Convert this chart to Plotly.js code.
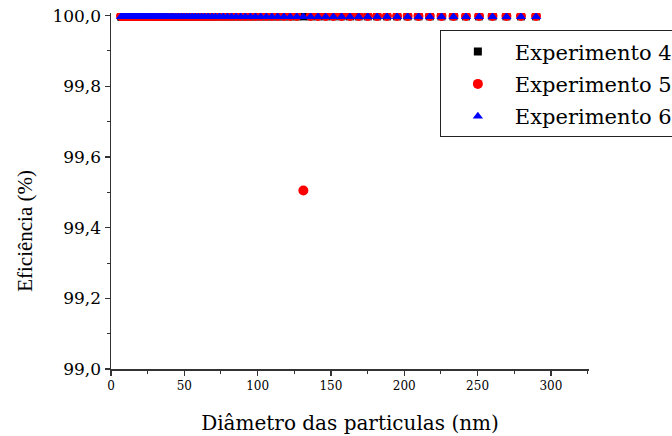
<!DOCTYPE html>
<html>
<head>
<meta charset="utf-8">
<script src="https://cdn.plot.ly/plotly-3.0.1.min.js"></script>
<style>html,body{margin:0;padding:0;background:#fff;}#chart{width:672px;height:436px;}</style>
</head>
<body>
<div id="chart"></div>
<script>
// Diâmetro das partículas (nm)
const diametro = [
  6.88, 7.12, 7.39, 7.65, 7.94, 8.22, 8.53, 8.85, 9.17, 9.51,
  9.85, 10.2, 10.6, 10.9, 11.3, 11.8, 12.2, 12.7, 13.1, 13.6,
  14.1, 14.6, 15.2, 15.7, 16.3, 16.9, 17.5, 18.2, 18.8, 19.5,
  20.2, 21.0, 21.7, 22.5, 23.4, 24.2, 25.1, 26.0, 27.0, 28.0,
  29.0, 30.0, 31.1, 32.3, 33.5, 34.7, 36.0, 37.3, 38.6, 40.1,
  41.5, 43.0, 44.6, 46.3, 48.0, 49.7, 51.5, 53.4, 55.4, 57.4,
  59.5, 61.7, 63.9, 66.3, 68.8, 71.2, 73.9, 76.5, 79.4, 82.2,
  85.3, 88.5, 91.7, 95.1, 98.5, 102.1, 105.9, 109.7, 113.7, 117.9,
  122.2, 126.7, 131.2, 136.1, 141.2, 146.4, 151.7, 157.2, 163.0, 168.9,
  175.1, 181.5, 188.2, 195.1, 202.3, 209.7, 217.4, 225.4, 233.6, 242.1,
  251.0, 260.2, 269.7, 279.6, 289.9
];

// Eficiência (%)
const experimento4 = [
  99.998, 99.998, 99.998, 99.998, 99.998, 99.998, 99.998, 99.998, 99.998, 99.998, 99.998, 99.998, 99.998, 99.998, 99.998,
  99.998, 99.998, 99.998, 99.998, 99.998, 99.998, 99.998, 99.998, 99.998, 99.998, 99.998, 99.998, 99.998, 99.998, 99.998,
  99.998, 99.998, 99.998, 99.998, 99.998, 99.998, 99.998, 99.998, 99.998, 99.998, 99.998, 99.998, 99.998, 99.998, 99.998,
  99.998, 99.998, 99.998, 99.998, 99.998, 99.998, 99.998, 99.998, 99.998, 99.998, 99.998, 99.998, 99.998, 99.998, 99.998,
  99.998, 99.998, 99.998, 99.998, 99.998, 99.998, 99.998, 99.998, 99.998, 99.998, 99.998, 99.998, 99.998, 99.998, 99.998,
  99.998, 99.998, 99.998, 99.998, 99.998, 99.998, 99.998, 99.998, 99.998, 99.998, 99.998, 99.998, 99.998, 99.998, 99.998,
  99.998, 99.998, 99.998, 99.998, 99.998, 99.998, 99.998, 99.998, 99.998, 99.998, 99.998, 99.998, 99.998, 99.998, 99.998
];
const experimento5 = [
  99.999, 99.999, 99.999, 99.999, 99.999, 99.999, 99.999, 99.999, 99.999, 99.999, 99.999, 99.999, 99.999, 99.999, 99.999,
  99.999, 99.999, 99.999, 99.999, 99.999, 99.999, 99.999, 99.999, 99.999, 99.999, 99.999, 99.999, 99.999, 99.999, 99.999,
  99.999, 99.999, 99.999, 99.999, 99.999, 99.999, 99.999, 99.999, 99.999, 99.999, 99.999, 99.999, 99.999, 99.999, 99.999,
  99.999, 99.999, 99.999, 99.999, 99.999, 99.999, 99.999, 99.999, 99.999, 99.999, 99.999, 99.999, 99.999, 99.999, 99.999,
  99.999, 99.999, 99.999, 99.999, 99.999, 99.999, 99.999, 99.999, 99.999, 99.999, 99.999, 99.999, 99.999, 99.999, 99.999,
  99.999, 99.999, 99.999, 99.999, 99.999, 99.999, 99.999, 99.505, 99.999, 99.999, 99.999, 99.999, 99.999, 99.999, 99.999,
  99.999, 99.999, 99.999, 99.999, 99.999, 99.999, 99.999, 99.999, 99.999, 99.999, 99.999, 99.999, 99.999, 99.999, 99.999
];
const experimento6 = [
  99.997, 99.997, 99.997, 99.997, 99.997, 99.997, 99.997, 99.997, 99.997, 99.997, 99.997, 99.997, 99.997, 99.997, 99.997,
  99.997, 99.997, 99.997, 99.997, 99.997, 99.997, 99.997, 99.997, 99.997, 99.997, 99.997, 99.997, 99.997, 99.997, 99.997,
  99.997, 99.997, 99.997, 99.997, 99.997, 99.997, 99.997, 99.997, 99.997, 99.997, 99.997, 99.997, 99.997, 99.997, 99.997,
  99.997, 99.997, 99.997, 99.997, 99.997, 99.997, 99.997, 99.997, 99.997, 99.997, 99.997, 99.997, 99.997, 99.997, 99.997,
  99.997, 99.997, 99.997, 99.997, 99.997, 99.997, 99.997, 99.997, 99.997, 99.997, 99.997, 99.997, 99.997, 99.997, 99.997,
  99.997, 99.997, 99.997, 99.997, 99.997, 99.997, 99.997, 99.997, 99.997, 99.997, 99.997, 99.997, 99.997, 99.997, 99.997,
  99.997, 99.997, 99.997, 99.997, 99.997, 99.997, 99.997, 99.997, 99.997, 99.997, 99.997, 99.997, 99.997, 99.997, 99.997
];

const seriesNames = ['Experimento 4', 'Experimento 5', 'Experimento 6'];
const xTicks = [0, 50, 100, 150, 200, 250, 300];
const yTicks = [99.0, 99.2, 99.4, 99.6, 99.8, 100.0];

const serif = 'DejaVu Serif, serif';

const traces = [
  {x: diametro, y: experimento4, name: seriesNames[0], legendgroup: 'a', type: 'scatter', mode: 'markers',
   marker: {symbol: 'square', size: 8, color: '#000000'}},
  {x: diametro, y: experimento5, name: seriesNames[1], legendgroup: 'b', type: 'scatter', mode: 'markers',
   marker: {symbol: 'circle', size: 10, color: '#ff0000'}},
  {x: diametro, y: experimento6, name: seriesNames[2], legendgroup: 'c', type: 'scatter', mode: 'markers',
   marker: {symbol: 'triangle-up', size: 9, color: '#0000ff'}}
];

const layout = {
  width: 672, height: 436,
  margin: {l: 111, r: 83, t: 13, b: 67, autoexpand: false},
  paper_bgcolor: '#ffffff', plot_bgcolor: '#ffffff',
  separators: ',.',
  showlegend: true,
  legend: {
    x: 0.688, y: 0.951, xanchor: 'left', yanchor: 'top',
    bgcolor: '#ffffff', bordercolor: '#222222', borderwidth: 1,
    font: {family: serif, size: 21, color: '#000'},
    traceorder: 'grouped', tracegroupgap: 2, itemwidth: 64
  },
  xaxis: {
    range: [0, 326], tickvals: xTicks, ticktext: xTicks.map(String),
    ticks: 'outside', ticklen: 5, tickwidth: 1.3, tickcolor: '#333',
    showline: true, linecolor: '#333', linewidth: 1.5,
    showgrid: false, zeroline: false,
    minor: {dtick: 25, tick0: 0, ticks: 'outside', ticklen: 3, tickwidth: 1, tickcolor: '#333', showgrid: false},
    tickfont: {family: serif, size: 12, color: '#000'},
    title: {text: 'Diâmetro das particulas (nm)', font: {family: serif, size: 20, color: '#000'}, standoff: 24}
  },
  yaxis: {
    range: [99, 100.0075], tickvals: yTicks, tickformat: '.1f',
    ticks: 'outside', ticklen: 5, tickwidth: 1.3, tickcolor: '#333',
    showline: true, linecolor: '#333', linewidth: 1.5,
    showgrid: false, zeroline: false,
    minor: {dtick: 0.1, tick0: 99, ticks: 'outside', ticklen: 3, tickwidth: 1, tickcolor: '#333', showgrid: false},
    tickfont: {family: serif, size: 17, color: '#000'}
  },
  annotations: [{
    text: 'Eficiência (%)', textangle: -90, showarrow: false,
    xref: 'paper', yref: 'paper', x: -0.18, y: 0.388, xanchor: 'center', yanchor: 'middle',
    font: {family: 'Liberation Serif, serif', size: 21, color: '#000'}
  }]
};

Plotly.newPlot('chart', traces, layout, {displayModeBar: false, staticPlot: true});
</script>
</body>
</html>
